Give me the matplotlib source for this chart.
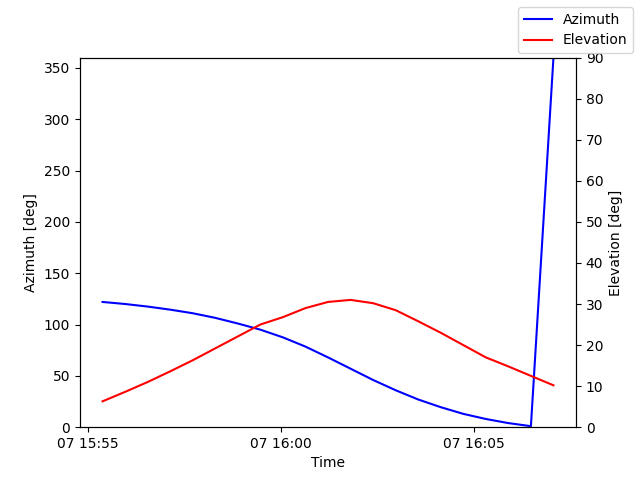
import matplotlib
matplotlib.use("Agg")
import matplotlib.pyplot as plt
import numpy as np
import pandas as pd

times = pd.date_range("2024-01-07 15:55:23", periods=21, freq="35s")
azimuth = [122, 120, 117.5, 114.5, 111, 106.5, 101, 95, 87.5, 78.5, 68, 57, 46,
           36, 27, 19.5, 13, 8, 4, 1, 360]
elevation = [6.3, 8.6, 11.0, 13.6, 16.3, 19.2, 22.1, 25.0, 26.8, 29.0, 30.5, 31.0,
             30.2, 28.5, 25.8, 23.0, 20.0, 17.0, 14.8, 12.5, 10.2]

fig, ax = plt.subplots(figsize=(6.4, 4.8), dpi=100)
ax.plot(times.to_pydatetime(), azimuth, color="blue", label="Azimuth")
ax.set_ylim(0, 360)
ax.set_xlabel("Time")
ax.set_ylabel("Azimuth [deg]")
ax2 = ax.twinx()
ax2.plot(times.to_pydatetime(), elevation, color="red", label="Elevation")
ax2.set_ylim(0, 90)
ax2.set_ylabel("Elevation [deg]")
fig.legend()
fig.savefig("out.png")
